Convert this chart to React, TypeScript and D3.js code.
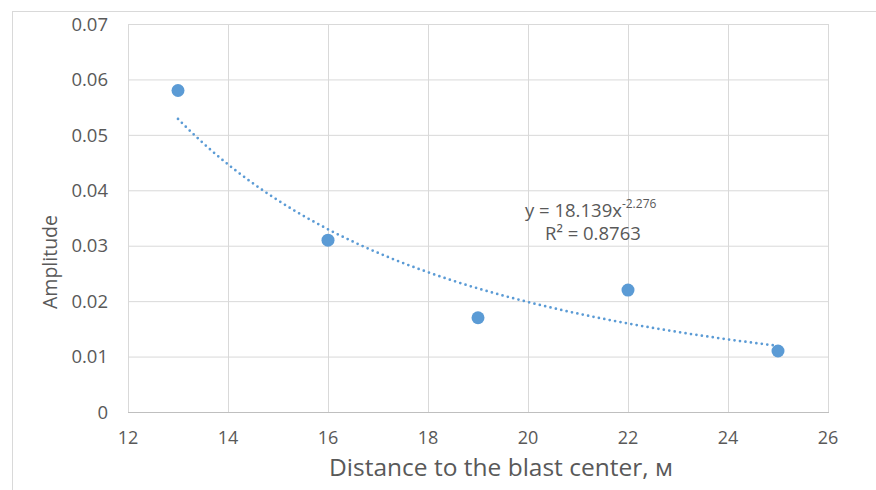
import * as d3 from 'd3'

const distances = [13, 16, 19, 22, 25]
const amplitudes = [0.058, 0.031, 0.017, 0.022, 0.011]
const xTicks = [12, 14, 16, 18, 20, 22, 24, 26]
const yTicks = [0, 0.01, 0.02, 0.03, 0.04, 0.05, 0.06, 0.07]
// power trendline as shown on the chart: y = a * x^b
const trendA = 18.139
const trendB = -2.276

const App = () => {
  const width = 876
  const height = 490
  const x = d3.scaleLinear().domain([12, 26]).range([128, 828])
  const y = d3.scaleLinear().domain([0, 0.07]).range([412, 24])

  const trendPts = d3.range(13, 25.001, 0.1).map((v) => [v, trendA * Math.pow(v, trendB)] as [number, number])
  const trendPath = d3
    .line<[number, number]>()
    .x((d) => x(d[0]))
    .y((d) => y(d[1]))(trendPts) as string

  const font = '"Open Sans", sans-serif'
  const grey = '#595959'

  return (
    <svg
      width={width}
      height={height}
      style={{ position: 'absolute', left: 0, top: 0, background: '#fff' }}
      fontFamily={font}
    >
      {/* outer chart frame */}
      <line x1={12.5} y1={11} x2={12.5} y2={height} stroke="#d9d9d9" />
      <line x1={12} y1={11.5} x2={width} y2={11.5} stroke="#d9d9d9" />

      {/* gridlines */}
      {xTicks.map((t) => (
        <line key={'gx' + t} x1={x(t) + 0.5} x2={x(t) + 0.5} y1={y(0.07)} y2={y(0)} stroke="#d9d9d9" />
      ))}
      {yTicks.map((t) => (
        <line key={'gy' + t} x1={x(12)} x2={x(26) + 1} y1={y(t) + 0.5} y2={y(t) + 0.5} stroke="#d9d9d9" />
      ))}
      <line x1={x(12)} x2={x(26) + 1} y1={y(0) + 0.5} y2={y(0) + 0.5} stroke="#bfbfbf" />

      {/* tick labels */}
      {yTicks.map((t) => (
        <text key={'ty' + t} x={108} y={y(t)} dy="0.36em" textAnchor="end" fontSize={18.5} fill={grey}>
          {t === 0 ? '0' : t.toFixed(2)}
        </text>
      ))}
      {xTicks.map((t) => (
        <text key={'tx' + t} x={x(t)} y={444} textAnchor="middle" fontSize={18} fill={grey}>
          {t}
        </text>
      ))}

      {/* axis titles */}
      <text x={501} y={476} textAnchor="middle" fontSize={24.5} fill={grey}>
        Distance to the blast center, м
      </text>
      <text transform="translate(57,262) rotate(-90)" textAnchor="middle" fontSize={19.5} fill={grey}>
        Amplitude
      </text>

      {/* trendline */}
      <path
        d={trendPath}
        fill="none"
        stroke="#5b9bd5"
        strokeWidth={2.75}
        strokeLinecap="round"
        strokeDasharray="0 5.5"
      />

      {/* points */}
      {distances.map((d, i) => (
        <circle key={'p' + i} cx={x(d)} cy={y(amplitudes[i])} r={6.5} fill="#5b9bd5" />
      ))}

      {/* equation */}
      <text x={525} y={217} fontSize={18.5} fill={grey}>
        y = 18.139x
        <tspan fontSize={12} dy={-9}>
          -2.276
        </tspan>
      </text>
      <text x={545} y={240} fontSize={18.5} fill={grey}>
        R² = 0.8763
      </text>
    </svg>
  )
}

export default App
